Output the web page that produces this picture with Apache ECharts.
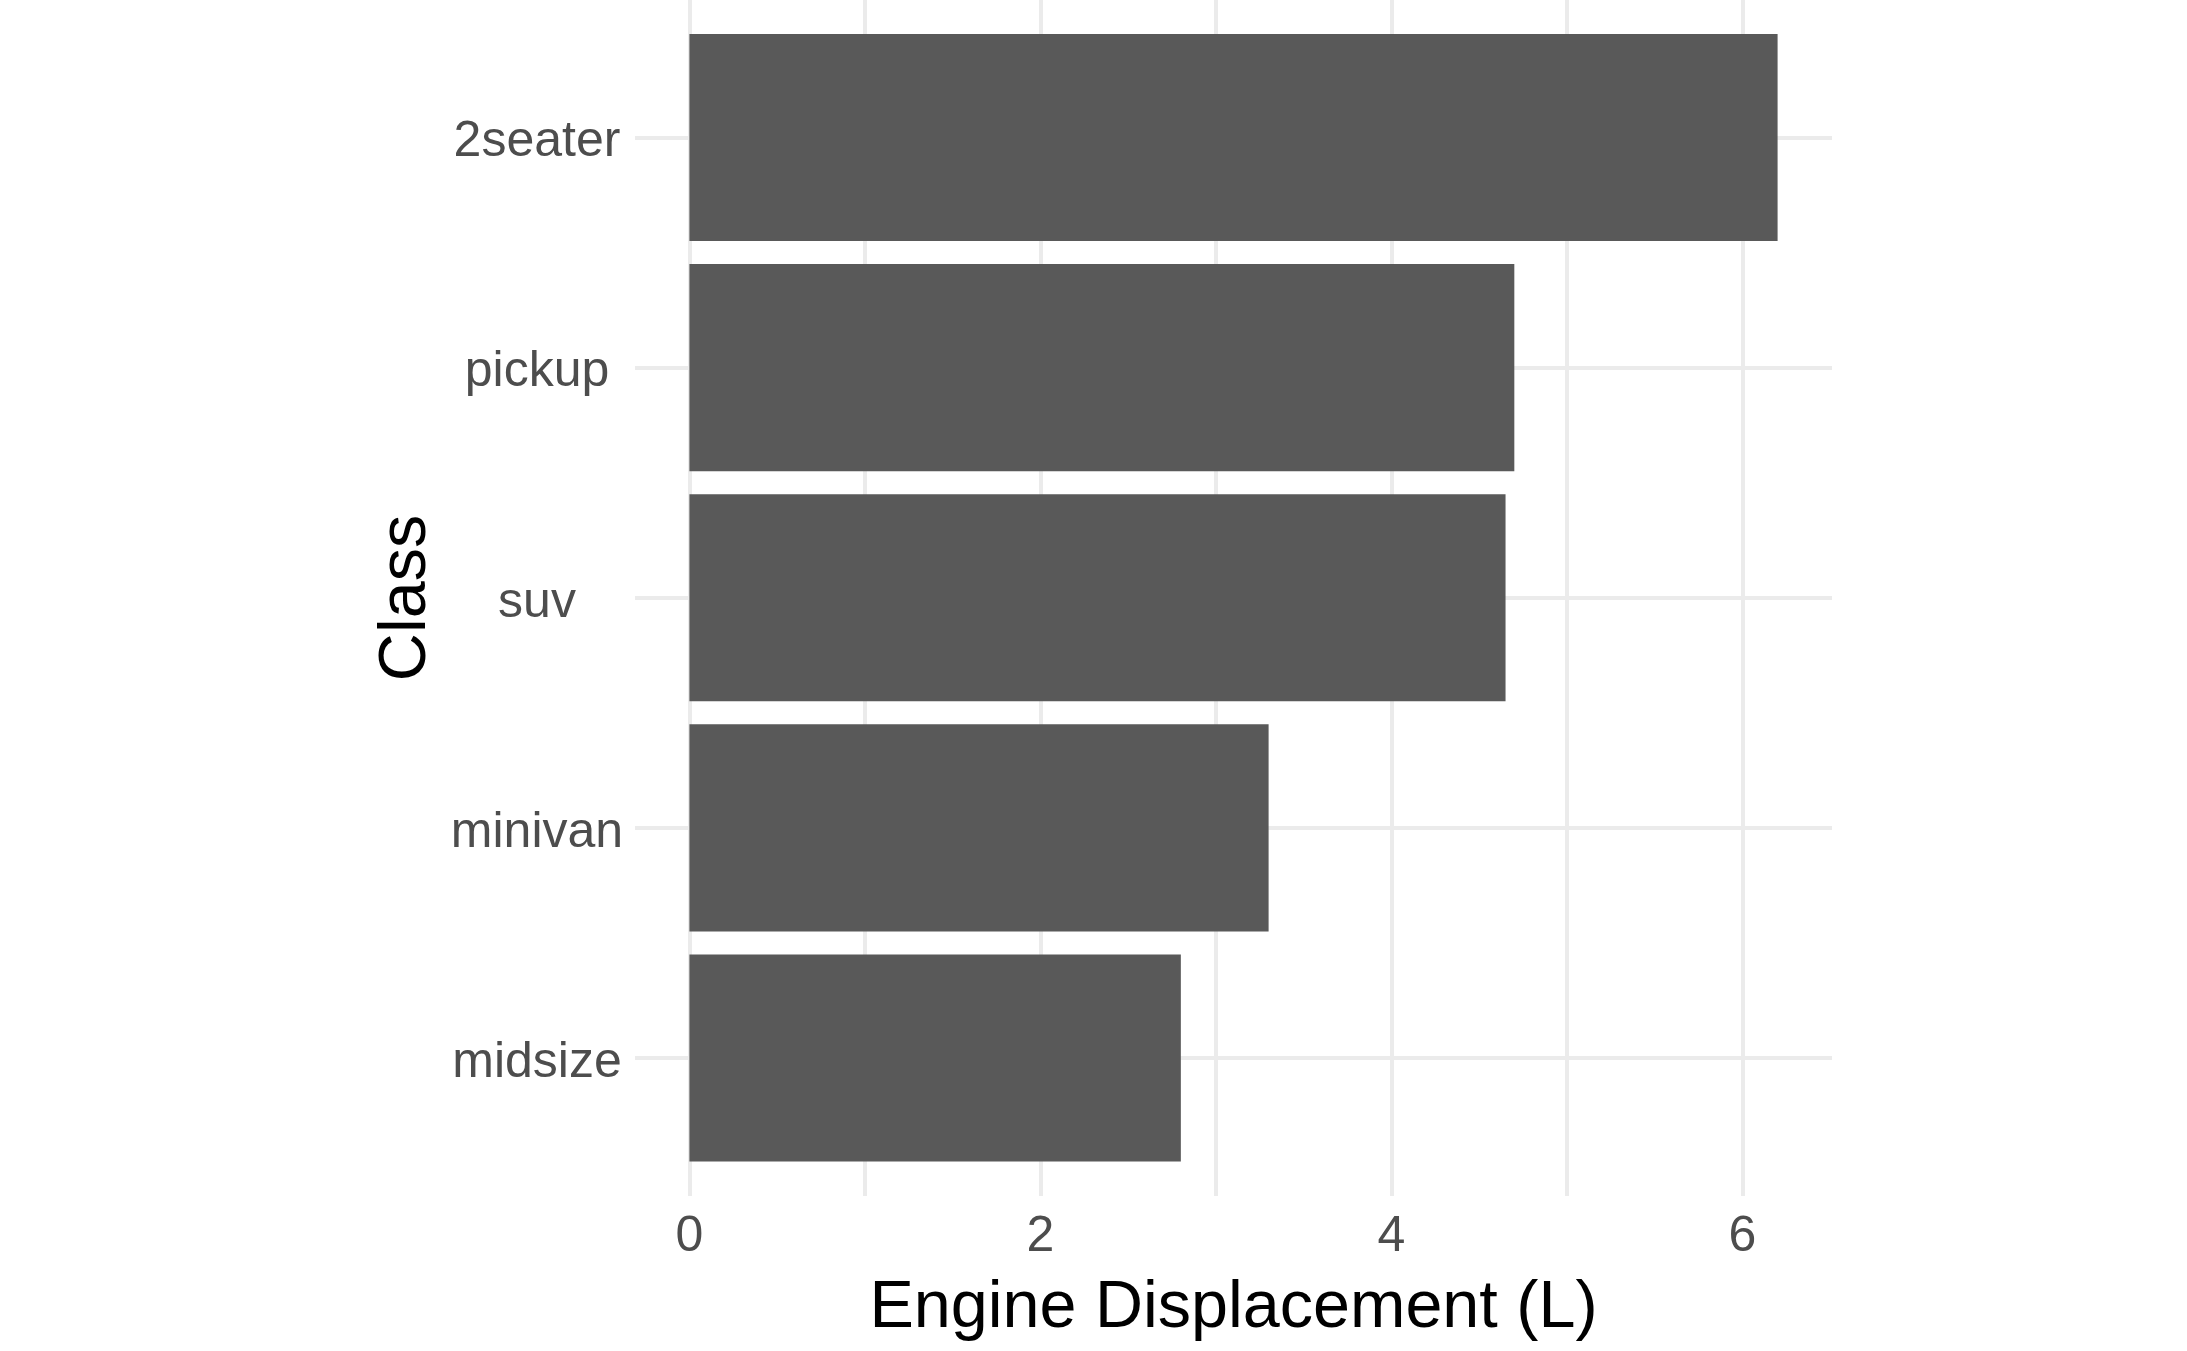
<!DOCTYPE html>
<html>
<head>
<meta charset="utf-8">
<script src="https://cdn.jsdelivr.net/npm/echarts@6/dist/echarts.min.js"></script>
<style>
html,body{margin:0;padding:0;background:#fff;}
#chart{width:2187px;height:1351px;}
</style>
</head>
<body>
<div id="chart"></div>
<script>
const categories = ['2seater', 'pickup', 'suv', 'minivan', 'midsize'];
const displacement = [6.2, 4.7, 4.65, 3.3, 2.8];
const xTickLabels = [0, 2, 4, 6];
const xGridValues = [0, 1, 2, 3, 4, 5, 6];
const xTitle = 'Engine Displacement (L)';
const yTitle = 'Class';

const FONT = 'Liberation Sans';
const GRID_COLOR = '#EBEBEB';
const xMin = -0.31, xMax = 6.51;
const yPositions = categories.map((c, i) => i + 1);

const chart = echarts.init(document.getElementById('chart'), null, {renderer: 'canvas'});
chart.setOption({
  animation: false,
  backgroundColor: '#ffffff',
  textStyle: {fontFamily: FONT},
  grid: [
    {left: 635, right: 355, top: 0, bottom: 155, containLabel: false},
    {left: 635, right: 355, top: 22.45, bottom: 177.95, containLabel: false}
  ],
  xAxis: [
    {
      gridIndex: 0, type: 'value', min: xMin, max: xMax,
      axisLine: {show: false},
      axisTick: {show: false, customValues: xGridValues},
      axisLabel: {customValues: xTickLabels, fontSize: 50, color: '#4D4D4D', margin: 16, fontFamily: FONT},
      splitLine: {show: true, lineStyle: {color: GRID_COLOR, width: 4}},
      name: xTitle, nameLocation: 'middle', nameGap: 79,
      nameTextStyle: {fontSize: 66.5, color: '#000000', fontFamily: FONT}
    },
    {
      gridIndex: 1, type: 'value', min: xMin, max: xMax, show: false,
      splitLine: {show: false}
    }
  ],
  yAxis: [
    {
      gridIndex: 0, type: 'value', min: 0.4, max: 5.6, inverse: true,
      axisLine: {show: false},
      axisTick: {show: false, customValues: yPositions},
      axisLabel: {show: false},
      splitLine: {show: true, lineStyle: {color: GRID_COLOR, width: 4}},
      name: yTitle, nameLocation: 'middle', nameGap: 195, nameRotate: 90,
      nameTextStyle: {fontSize: 66.5, color: '#000000', fontFamily: FONT}
    },
    {
      gridIndex: 1, type: 'category', data: categories, inverse: true,
      axisLine: {show: false},
      axisTick: {show: false},
      axisLabel: {fontSize: 50, color: '#4D4D4D', margin: 98, align: 'center', verticalAlign: 'top', lineHeight: 10, fontFamily: FONT},
      splitLine: {show: false}
    }
  ],
  series: [
    {
      type: 'bar', xAxisIndex: 1, yAxisIndex: 1,
      data: displacement,
      barWidth: '90%',
      itemStyle: {color: '#595959'},
      z: 3
    }
  ]
});
</script>
</body>
</html>
